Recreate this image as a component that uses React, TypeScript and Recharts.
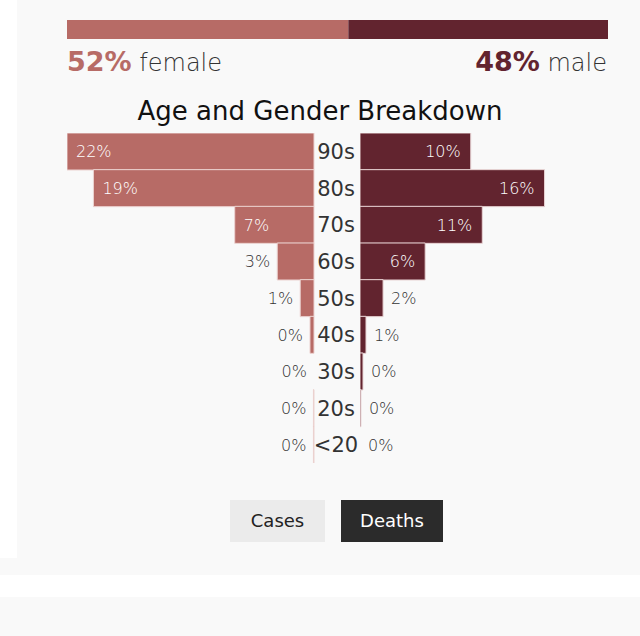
import React from "react";
import { BarChart, Bar, XAxis, YAxis, LabelList, Cell } from "recharts";

// age groups, top to bottom
const ageGroups = ["90s", "80s", "70s", "60s", "50s", "40s", "30s", "20s", "<20"];
// share of deaths (%)
const femaleDeaths = [21.5, 19.2, 6.9, 3.2, 1.2, 0.35, 0, 0.05, 0.05];
const maleDeaths = [9.6, 16.0, 10.6, 5.65, 2.0, 0.52, 0.26, 0.08, 0];
const genderNames = ["female", "male"];
const genderShares = [52, 48];
const toggleLabels = ["Cases", "Deaths"];

const FEMALE = "#b76b66";
const MALE = "#62242f";
const FONT = "'DejaVu Sans', Lato, sans-serif";
const MAX_PCT = 21.5;

const rows = ageGroups.map((age, i) => ({
  age,
  female: femaleDeaths[i],
  male: maleDeaths[i],
}));

const splitRow = [{ name: "all", female: genderShares[0], male: genderShares[1] }];

// zero values still need a (invisible) rect so the label gets drawn
const zeroMin = (v: any) => (Number(v) === 0 ? 0.001 : 0);

const makeLabel = (side: "left" | "right") => (props: any) => {
  const vb = props.viewBox || props;
  const { x, y, width, height } = vb;
  const x0 = Math.min(x, x + width);
  const x1 = Math.max(x, x + width);
  const inside = x1 - x0 > 40;
  let tx = 0;
  let anchor: "start" | "end" = "start";
  if (side === "left") {
    tx = inside ? x0 + 9 : x0 - 7;
    anchor = inside ? "start" : "end";
  } else {
    tx = inside ? x1 - 10 : x1 + 8;
    anchor = inside ? "end" : "start";
  }
  return (
    <text
      x={tx}
      y={y + height / 2}
      dy="0.36em"
      textAnchor={anchor}
      fill={inside ? "#fff" : "#333"}
      fontSize={16}
      fontFamily={FONT}
      fontWeight={200}
    >
      {Math.round(Number(props.value))}%
    </text>
  );
};

const AgeTick = (props: any) => {
  const { x, y, payload } = props;
  return (
    <text x={x + 22} y={y} dy="0.36em" textAnchor="middle" fill="#333" fontSize={21} fontFamily={FONT}>
      {payload.value}
    </text>
  );
};

const App: React.FC = () => {
  return (
    <div
      style={{
        position: "absolute",
        left: 0,
        top: 0,
        width: 640,
        height: 636,
        background: "#fff",
        fontFamily: FONT,
        overflow: "hidden",
      }}
    >
      <div style={{ position: "absolute", left: 17, top: 0, width: 623, height: 558, background: "#f9f9f9" }} />
      <div style={{ position: "absolute", left: 0, top: 558, width: 640, height: 17, background: "#f9f9f9" }} />
      <div style={{ position: "absolute", left: 0, top: 597, width: 640, height: 39, background: "#f9f9f9" }} />

      {/* gender split bar */}
      <div style={{ position: "absolute", left: 67, top: 20 }}>
        <BarChart
          width={541}
          height={19}
          layout="vertical"
          data={splitRow}
          margin={{ top: 0, right: 0, bottom: 0, left: 0 }}
          barCategoryGap={0}
        >
          <XAxis type="number" domain={[0, 100]} hide />
          <YAxis type="category" dataKey="name" hide />
          <Bar dataKey="female" stackId="g" fill={FEMALE} isAnimationActive={false} />
          <Bar dataKey="male" stackId="g" fill={MALE} isAnimationActive={false} />
        </BarChart>
      </div>

      <div style={{ position: "absolute", left: 67, top: 46, fontSize: 24, color: "#333", whiteSpace: "nowrap" }}>
        <span style={{ color: FEMALE, fontWeight: 700, fontSize: 27 }}>{genderShares[0]}%</span>{" "}
        <span style={{ fontWeight: 200 }}>{genderNames[0]}</span>
      </div>
      <div
        style={{
          position: "absolute",
          right: 33,
          top: 46,
          fontSize: 24,
          color: "#333",
          whiteSpace: "nowrap",
          textAlign: "right",
        }}
      >
        <span style={{ color: MALE, fontWeight: 700, fontSize: 27 }}>{genderShares[1]}%</span>{" "}
        <span style={{ fontWeight: 200 }}>{genderNames[1]}</span>
      </div>

      <div
        style={{
          position: "absolute",
          left: 0,
          width: 640,
          top: 96,
          textAlign: "center",
          fontSize: 26,
          fontWeight: 400,
          color: "#111",
        }}
      >
        Age and Gender Breakdown
      </div>

      {/* female side, age labels on its right */}
      <div style={{ position: "absolute", left: 67, top: 133 }}>
        <BarChart
          width={293}
          height={330}
          layout="vertical"
          data={rows}
          margin={{ top: 0, right: 0, bottom: 0, left: 0 }}
          barCategoryGap={0}
        >
          <XAxis type="number" domain={[0, MAX_PCT]} reversed hide />
          <YAxis
            type="category"
            dataKey="age"
            orientation="right"
            width={46}
            axisLine={false}
            tickLine={false}
            tickSize={0}
            tickMargin={0}
            tick={<AgeTick />}
          />
          <Bar dataKey="female" fill={FEMALE} minPointSize={zeroMin} strokeWidth={1} isAnimationActive={false}>
            {femaleDeaths.map((v, i) => (
              <Cell key={i} stroke={v === 0 ? "none" : "#ecd3d1"} fill={v === 0 ? "none" : FEMALE} />
            ))}
            <LabelList dataKey="female" content={makeLabel("left")} />
          </Bar>
        </BarChart>
      </div>

      {/* male side */}
      <div style={{ position: "absolute", left: 360, top: 133 }}>
        <BarChart
          width={248}
          height={330}
          layout="vertical"
          data={rows}
          margin={{ top: 0, right: 0, bottom: 0, left: 0 }}
          barCategoryGap={0}
        >
          <XAxis type="number" domain={[0, MAX_PCT]} hide />
          <YAxis type="category" dataKey="age" hide />
          <Bar dataKey="male" fill={MALE} minPointSize={zeroMin} strokeWidth={1} isAnimationActive={false}>
            {maleDeaths.map((v, i) => (
              <Cell key={i} stroke={v === 0 ? "none" : "#e8d3d4"} fill={v === 0 ? "none" : MALE} />
            ))}
            <LabelList dataKey="male" content={makeLabel("right")} />
          </Bar>
        </BarChart>
      </div>

      {/* toggle buttons */}
      <div
        style={{
          position: "absolute",
          left: 230,
          top: 500,
          width: 95,
          height: 42,
          background: "#ebebeb",
          color: "#222",
          fontSize: 18,
          lineHeight: "42px",
          textAlign: "center",
        }}
      >
        {toggleLabels[0]}
      </div>
      <div
        style={{
          position: "absolute",
          left: 341,
          top: 500,
          width: 102,
          height: 42,
          background: "#2b2b2b",
          color: "#fff",
          fontSize: 18,
          lineHeight: "42px",
          textAlign: "center",
        }}
      >
        {toggleLabels[1]}
      </div>
    </div>
  );
};

export default App;
